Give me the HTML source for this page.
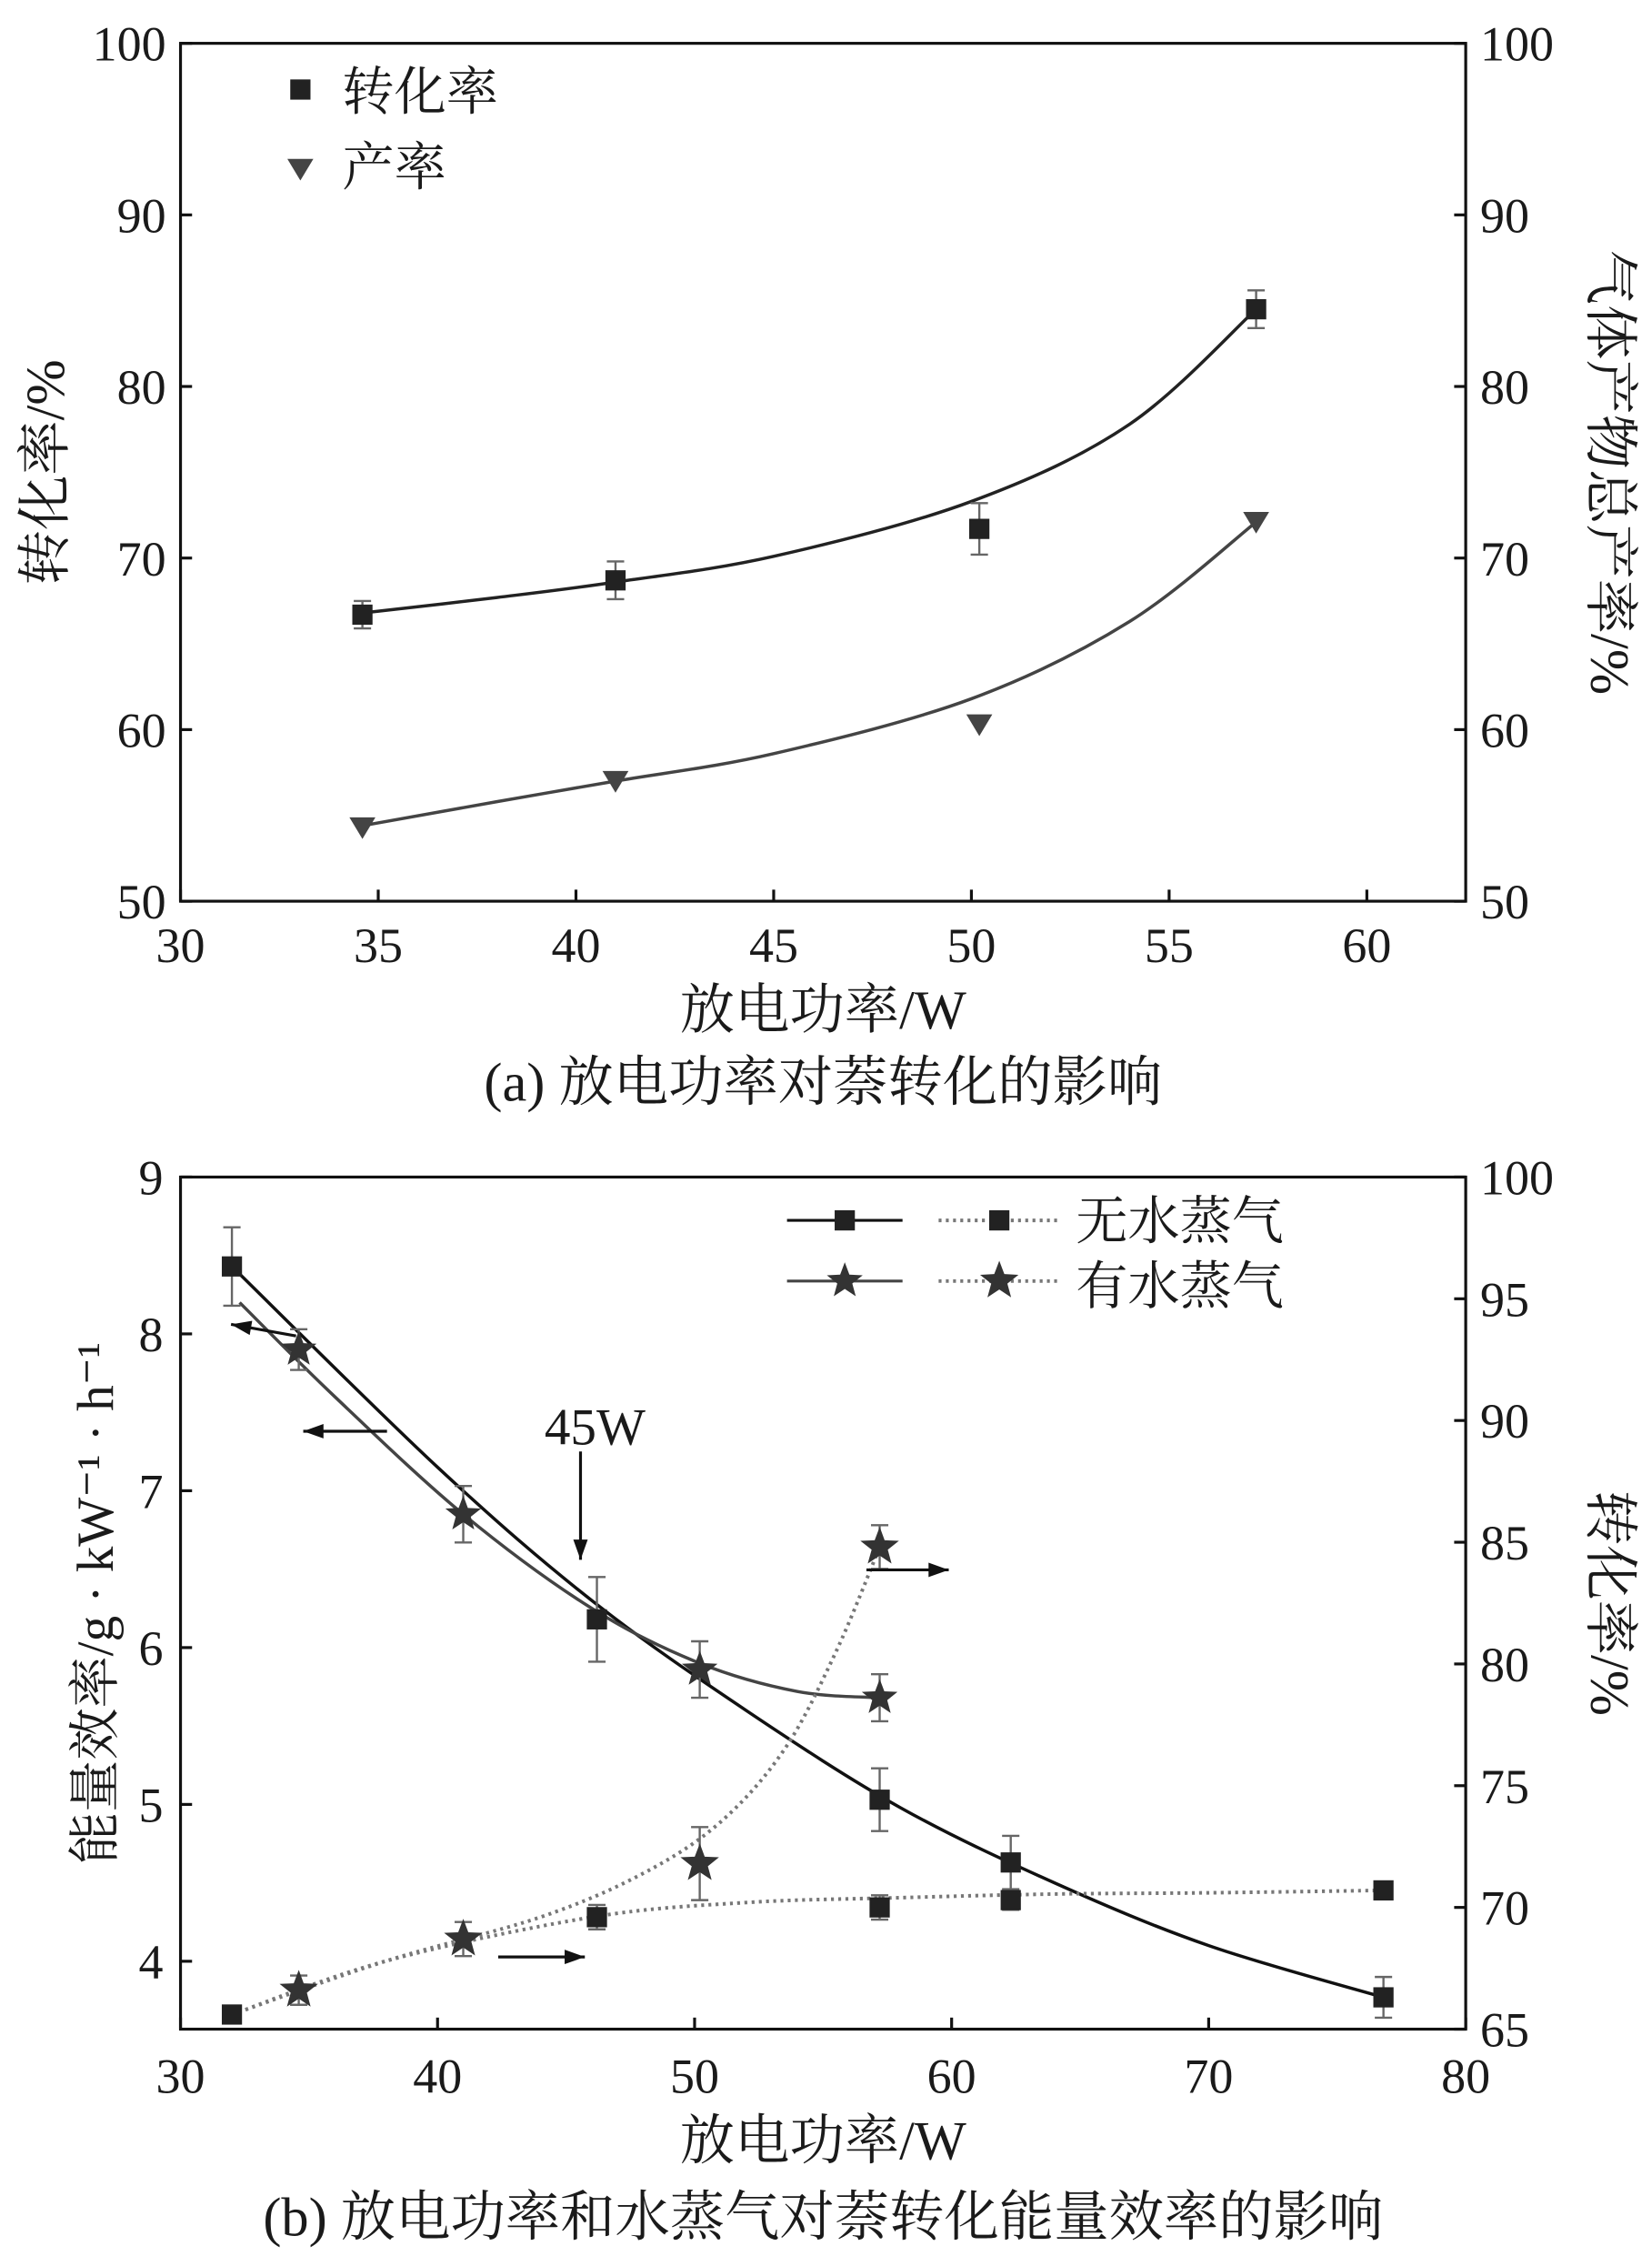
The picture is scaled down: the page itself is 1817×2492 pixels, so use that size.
<!DOCTYPE html>
<html><head><meta charset="utf-8">
<style>
html,body{margin:0;padding:0;background:#fff;}
svg{display:block;}
text{font-family:"Liberation Serif","Noto Serif CJK SC",serif;fill:#1a1a1a;}
</style></head>
<body>
<svg id="fig" width="1817" height="2492" viewBox="0 0 1144 1569" xmlns="http://www.w3.org/2000/svg"></svg>
<script>
// ---- Chart (a) data ----
const aPower = [34.6, 41, 50.2, 57.2];
const aConv = [66.7, 68.7, 71.7, 84.5];
const aConvErr = [0.8, 1.1, 1.5, 1.1];
const aYield = [54.3, 57.0, 60.3, 72.1];
const aConvFitX = [34.6, 38, 41, 45, 50, 54, 57.2];
const aConvFitY = [66.8, 67.7, 68.6, 70.1, 73.3, 77.8, 84.5];
const aYieldFitX = [34.6, 38, 41, 45, 50, 54, 57.2];
const aYieldFitY = [54.4, 55.8, 57.0, 58.6, 61.8, 66.3, 72.1];
const aXTicks = [30, 35, 40, 45, 50, 55, 60];
const aYTicks = [50, 60, 70, 80, 90, 100];

// ---- Chart (b) data ----
const bNoSteamX = [32, 46.2, 57.2, 62.3, 76.8];
const bNoSteamEff = [8.43, 6.18, 5.03, 4.63, 3.77];
const bNoSteamEffErr = [0.25, 0.27, 0.2, 0.17, 0.13];
const bSteamX = [34.6, 41, 50.2, 57.2];
const bSteamEff = [7.9, 6.85, 5.86, 5.68];
const bSteamEffErr = [0.13, 0.18, 0.18, 0.15];
const bNoSteamConv = [65.6, 69.6, 70.0, 70.3, 70.7];
const bNoSteamConvErr = [0.2, 0.5, 0.5, 0.4, 0.2];
const bSteamConv = [66.6, 68.7, 71.8, 84.8];
const bSteamConvErr = [0.6, 0.7, 1.5, 0.9];
const bEffFitNoX = [32, 40, 46, 52, 58, 64, 70, 76.8];
const bEffFitNoY = [8.43, 7.15, 6.3, 5.6, 4.98, 4.5, 4.1, 3.77];
const bEffFitStX = [32.3, 36, 41, 46, 50.2, 54, 57.2];
const bEffFitStY = [8.2, 7.6, 6.85, 6.25, 5.9, 5.72, 5.68];
const bConvFitNoX = [32, 38, 46, 52, 58, 64, 70, 76.8];
const bConvFitNoY = [65.6, 67.8, 69.6, 70.2, 70.4, 70.55, 70.6, 70.7];
const bConvFitStX = [32, 38, 44, 48, 51, 53.5, 55.5, 57.2];
const bConvFitStY = [65.6, 67.8, 69.6, 71.4, 73.5, 76.5, 80.5, 84.8];
const bXTicks = [30, 40, 50, 60, 70, 80];
const bYTicks = [4, 5, 6, 7, 8, 9];
const bRTicks = [65, 70, 75, 80, 85, 90, 95, 100];

const svg = document.getElementById('fig');
const NS = 'http://www.w3.org/2000/svg';
function el(tag, attrs, parent){ const e=document.createElementNS(NS,tag); for(const k in attrs) e.setAttribute(k,attrs[k]); (parent||svg).appendChild(e); return e; }
function txt(s, attrs, parent){ const e=el('text',attrs,parent); e.textContent=s; return e; }
function lin(d0,d1,r0,r1){ return v=> r0+(v-d0)/(d1-d0)*(r1-r0); }
function smooth(pts){
  let d='M'+pts[0][0]+','+pts[0][1];
  for(let i=0;i<pts.length-1;i++){
    const p0=pts[Math.max(0,i-1)],p1=pts[i],p2=pts[i+1],p3=pts[Math.min(pts.length-1,i+2)];
    const c1x=p1[0]+(p2[0]-p0[0])/6,c1y=p1[1]+(p2[1]-p0[1])/6;
    const c2x=p2[0]-(p3[0]-p1[0])/6,c2y=p2[1]-(p3[1]-p1[1])/6;
    d+=` C${c1x},${c1y} ${c2x},${c2y} ${p2[0]},${p2[1]}`;
  }
  return d;
}
function square(cx,cy,name,g){ const r=el('rect',{x:cx-7,y:cy-7,width:14,height:14,fill:'#222'},g);
  
   return r; }
function tri(cx,cy,name,g){ const p=el('polygon',{points:`${cx-9},${cy-7} ${cx+9},${cy-7} ${cx},${cy+8}`,fill:'#444'},g);
  
   return p; }
function star(cx,cy,r,name,g){ let pts=[]; for(let i=0;i<10;i++){const a=-Math.PI/2+i*Math.PI/5; const rr=i%2?r*0.42:r; pts.push((cx+rr*Math.cos(a)).toFixed(1)+','+(cy+rr*Math.sin(a)).toFixed(1));}
  const p=el('polygon',{points:pts.join(' '),fill:'#333'},g);
  
   return p; }
function errbar(cx,y1,y2,name,g){ const gg=el('g',{stroke:'#666','stroke-width':1.5},g);
  
  
  el('line',{x1:cx,x2:cx,y1:y1,y2:y2},gg); el('line',{x1:cx-6,x2:cx+6,y1:y1,y2:y1},gg); el('line',{x1:cx-6,x2:cx+6,y1:y2,y2:y2},gg); }
function arrow(x1,y1,x2,y2,name){ const g=el('g',{stroke:'#111','stroke-width':2,fill:'#111'});
  
  
  el('line',{x1,y1,x2,y2},g); const a=Math.atan2(y2-y1,x2-x1),L=14,W=5;
  el('polygon',{points:`${x2},${y2} ${x2-L*Math.cos(a)+W*Math.sin(a)},${y2-L*Math.sin(a)-W*Math.cos(a)} ${x2-L*Math.cos(a)-W*Math.sin(a)},${y2-L*Math.sin(a)+W*Math.cos(a)}`,stroke:'none'},g); }

// ================= Chart (a) =================
const AL=125,AR=1015,AT=30,AB=624;
const ax=lin(30,62.5,AL,AR), ay=lin(50,100,AB,AT);
const ga=el('g',{});  
const fa=el('rect',{x:AL,y:AT,width:AR-AL,height:AB-AT,fill:'none',stroke:'#111','stroke-width':2},ga);
 
aXTicks.forEach(t=>{ el('line',{x1:ax(t),x2:ax(t),y1:AB,y2:AB-8,stroke:'#111','stroke-width':2},ga);
  const l=txt(String(t),{x:ax(t),y:AB+42,'font-size':34,'text-anchor':'middle'},ga);
    });
aYTicks.forEach(t=>{ el('line',{x1:AL,x2:AL+8,y1:ay(t),y2:ay(t),stroke:'#111','stroke-width':2},ga);
  el('line',{x1:AR,x2:AR-8,y1:ay(t),y2:ay(t),stroke:'#111','stroke-width':2},ga);
  const l=txt(String(t),{x:AL-10,y:ay(t)+12,'font-size':34,'text-anchor':'end'},ga);
   
  const r=txt(String(t),{x:AR+10,y:ay(t)+12,'font-size':34,'text-anchor':'start'},ga);
    });
let p=el('path',{d:smooth(aConvFitX.map((x,i)=>[ax(x),ay(aConvFitY[i])])),fill:'none',stroke:'#222','stroke-width':2.2},ga);
 
p=el('path',{d:smooth(aYieldFitX.map((x,i)=>[ax(x),ay(aYieldFitY[i])])),fill:'none',stroke:'#444','stroke-width':2.2},ga);
 
aPower.forEach((x,i)=>{ errbar(ax(x),ay(aConv[i]+aConvErr[i]),ay(aConv[i]-aConvErr[i]),'conversion-error-bar',ga);
  square(ax(x),ay(aConv[i]),'conversion-point',ga); tri(ax(x),ay(aYield[i]),'yield-point',ga); });
square(208,62,'legend-conversion-marker',ga);
let t=txt('转化率',{x:237,y:76,'font-size':36},ga);  
tri(208,117,'legend-yield-marker',ga);
t=txt('产率',{x:237,y:128,'font-size':36},ga);  
t=txt('放电功率/W',{x:570,y:712,'font-size':38,'text-anchor':'middle'},ga);  
t=txt('转化率/%',{x:0,y:0,'font-size':38,'text-anchor':'middle',transform:`translate(44,${(AT+AB)/2}) rotate(-90)`},ga);  
t=txt('气体产物总产率/%',{x:0,y:0,'font-size':38,'text-anchor':'middle',transform:`translate(1102,${(AT+AB)/2}) rotate(90)`},ga);  
t=txt('(a) 放电功率对萘转化的影响',{x:570,y:762,'font-size':38,'text-anchor':'middle'},ga);  

// ================= Chart (b) =================
const BL=125,BR=1015,BT=815,BB=1405;
const bx=lin(30,80,BL,BR), by=lin(4,9,1358,815), br=lin(65,100,BB,BT);
const gb=el('g',{});  
const fb=el('rect',{x:BL,y:BT,width:BR-BL,height:BB-BT,fill:'none',stroke:'#111','stroke-width':2},gb);
 
bXTicks.forEach(v=>{ el('line',{x1:bx(v),x2:bx(v),y1:BB,y2:BB-8,stroke:'#111','stroke-width':2},gb);
  const l=txt(String(v),{x:bx(v),y:BB+44,'font-size':34,'text-anchor':'middle'},gb);
    });
bYTicks.forEach(v=>{ el('line',{x1:BL,x2:BL+8,y1:by(v),y2:by(v),stroke:'#111','stroke-width':2},gb);
  const l=txt(String(v),{x:BL-12,y:by(v)+12,'font-size':34,'text-anchor':'end'},gb);
    });
bRTicks.forEach(v=>{ el('line',{x1:BR,x2:BR-8,y1:br(v),y2:br(v),stroke:'#111','stroke-width':2},gb);
  const l=txt(String(v),{x:BR+10,y:br(v)+12,'font-size':34,'text-anchor':'start'},gb);
    });
p=el('path',{d:smooth(bEffFitNoX.map((x,i)=>[bx(x),by(bEffFitNoY[i])])),fill:'none',stroke:'#111','stroke-width':2.2},gb);
 
p=el('path',{d:smooth(bEffFitStX.map((x,i)=>[bx(x),by(bEffFitStY[i])])),fill:'none',stroke:'#444','stroke-width':2.2},gb);
 
p=el('path',{d:smooth(bConvFitNoX.map((x,i)=>[bx(x),br(bConvFitNoY[i])])),fill:'none',stroke:'#777','stroke-width':2.5,'stroke-dasharray':'2,3'},gb);
 
p=el('path',{d:smooth(bConvFitStX.map((x,i)=>[bx(x),br(bConvFitStY[i])])),fill:'none',stroke:'#777','stroke-width':2.5,'stroke-dasharray':'2,3'},gb);
 
bNoSteamX.forEach((x,i)=>{
  errbar(bx(x),by(bNoSteamEff[i]+bNoSteamEffErr[i]),by(bNoSteamEff[i]-bNoSteamEffErr[i]),'efficiency-no-steam-error',gb);
  square(bx(x),by(bNoSteamEff[i]),'efficiency-no-steam-point',gb);
  errbar(bx(x),br(bNoSteamConv[i]+bNoSteamConvErr[i]),br(bNoSteamConv[i]-bNoSteamConvErr[i]),'conversion-no-steam-error',gb);
  square(bx(x),br(bNoSteamConv[i]),'conversion-no-steam-point',gb); });
bSteamX.forEach((x,i)=>{
  errbar(bx(x),by(bSteamEff[i]+bSteamEffErr[i]),by(bSteamEff[i]-bSteamEffErr[i]),'efficiency-steam-error',gb);
  star(bx(x),by(bSteamEff[i]),13,'efficiency-steam-point',gb);
  errbar(bx(x),br(bSteamConv[i]+bSteamConvErr[i]),br(bSteamConv[i]-bSteamConvErr[i]),'conversion-steam-error',gb);
  star(bx(x),br(bSteamConv[i]),14,'conversion-steam-point',gb); });
// legend
el('line',{x1:545,x2:625,y1:845,y2:845,stroke:'#111','stroke-width':2},gb); square(585,845,'legend-no-steam-solid-marker',gb);
el('line',{x1:650,x2:735,y1:845,y2:845,stroke:'#777','stroke-width':2.5,'stroke-dasharray':'2,3'},gb); square(692,845,'legend-no-steam-dotted-marker',gb);
t=txt('无水蒸气',{x:745,y:858,'font-size':36},gb);  
el('line',{x1:545,x2:625,y1:887,y2:887,stroke:'#444','stroke-width':2},gb); star(585,887,13,'legend-steam-solid-marker',gb);
el('line',{x1:650,x2:735,y1:887,y2:887,stroke:'#777','stroke-width':2.5,'stroke-dasharray':'2,3'},gb); star(692,887,14,'legend-steam-dotted-marker',gb);
t=txt('有水蒸气',{x:745,y:903,'font-size':36},gb);  
// annotations
arrow(205,925,160,917,'arrow-left-1'); arrow(268,991,210,991,'arrow-left-2');
arrow(600,1087,657,1087,'arrow-right-1'); arrow(345,1355,405,1355,'arrow-right-2');
arrow(402,1005,402,1080,'arrow-45w');
t=txt('45W',{x:412,y:1000,'font-size':36,'text-anchor':'middle'},gb);  
t=txt('放电功率/W',{x:570,y:1495,'font-size':38,'text-anchor':'middle'},gb);  
t=txt('能量效率/g · kW⁻¹ · h⁻¹',{x:0,y:0,'font-size':36,'text-anchor':'middle',transform:`translate(78,${(BT+BB)/2}) rotate(-90)`},gb);  
t=txt('转化率/%',{x:0,y:0,'font-size':38,'text-anchor':'middle',transform:`translate(1102,${(BT+BB)/2}) rotate(90)`},gb);  
t=txt('(b) 放电功率和水蒸气对萘转化能量效率的影响',{x:570,y:1548,'font-size':38,'text-anchor':'middle'},gb);  
</script>
</body></html>
